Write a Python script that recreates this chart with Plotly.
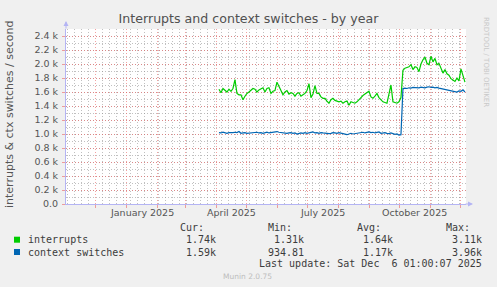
import pandas as pd
import plotly.graph_objects as go

TITLE = "Interrupts and context switches - by year"
Y_TITLE = "interrupts & ctx switches / second"
series_names = ["interrupts", "context switches"]
series_colors = ["#00CC00", "#0066B3"]

# daily-average samples, one every 2 days starting at data_start
data_start = "2025-04-03"
data_step = "2D"

interrupts = [
    1640, 1590, 1650, 1620, 1600, 1640, 1610, 1650, 1776, 1580,
    1560, 1560, 1490, 1540, 1580, 1600, 1630, 1650, 1640, 1600,
    1630, 1650, 1660, 1600, 1650, 1660, 1580, 1610, 1620, 1740,
    1670, 1620, 1560, 1600, 1620, 1570, 1590, 1580, 1540, 1580,
    1590, 1540, 1560, 1580, 1620, 1720, 1520, 1570, 1690, 1580,
    1580, 1530, 1510, 1510, 1470, 1440, 1490, 1510, 1480, 1470,
    1460, 1470, 1440, 1460, 1470, 1410, 1460, 1450, 1440, 1460,
    1490, 1530, 1550, 1570, 1590, 1610, 1530, 1510, 1540, 1580,
    1520, 1490, 1460, 1450, 1440, 1570, 1700, 1460, 1450, 1440,
    1460, 1520, 1910, 1940, 1950, 1960, 1990, 1920, 1960, 1950,
    1890, 2000, 2060, 2100, 2010, 1990, 2110, 2030, 2080, 1990,
    2010, 1940, 1870, 1920, 1860, 1840, 1790, 1770, 1750, 1800,
    1760, 1930, 1820, 1740,
]

context_switches = [
    1020, 1015, 1025, 1020, 1010, 1020, 1015, 1020, 1025, 1020,
    1035, 1010, 1015, 1020, 1010, 1015, 1020, 1015, 1020, 1025,
    1015, 1020, 1010, 1020, 1025, 1015, 1020, 1030, 1025, 1035,
    1025, 1020, 1015, 1020, 1010, 1015, 1020, 1010, 1015, 1000,
    1010, 1015, 1010, 1020, 1010, 1015, 1020, 1030, 1015, 1020,
    1010, 1020, 1015, 1010, 1015, 1005, 1010, 1020, 1015, 1010,
    1020, 1010, 1000, 995, 990, 1000, 1010, 1000, 1005, 1010,
    1015, 1020, 1025, 1015, 1020, 1030, 1020, 1025, 1015, 1020,
    1030, 1010, 1015, 1020, 1010, 1005, 1015, 1005, 995, 1000,
    985, 990, 1650, 1655, 1650, 1660, 1655, 1665, 1660, 1665,
    1660, 1670, 1665, 1660, 1670, 1675, 1665, 1670, 1660, 1665,
    1655, 1650, 1645, 1640, 1635, 1630, 1625, 1620, 1610, 1600,
    1615, 1610, 1630, 1600,
]

x_range = ["2024-11-01 01:00", "2025-12-06 01:00"]
y_range = [0, 2500]
y_tick_values = [0, 200, 400, 600, 800, 1000, 1200, 1400, 1600, 1800, 2000, 2200, 2400]
y_tick_labels = ["0.0", "0.2 k", "0.4 k", "0.6 k", "0.8 k", "1.0 k", "1.2 k",
                 "1.4 k", "1.6 k", "1.8 k", "2.0 k", "2.2 k", "2.4 k"]
x_label_dates = ["2025-01-16", "2025-04-16", "2025-07-16", "2025-10-16"]
x_labels = ["January 2025", "April 2025", "July 2025", "October 2025"]

stat_headers = ["Cur:", "Min:", "Avg:", "Max:"]
cur_values = ["1.74k", "1.59k"]
min_values = ["1.31k", "934.81"]
avg_values = ["1.64k", "1.17k"]
max_values = ["3.11k", "3.96k"]
last_update = "Last update: Sat Dec\u00a0 6 01:00:07 2025"
footer = "Munin 2.0.75"
watermark = "RRDTOOL / TOBI OETIKER"

W, H = 497, 287
PL, PR, PT, PB = 66, 466, 29, 204


def px(x):
    return (x - PL) / (PR - PL)


def py(y):
    return (PB - y) / (PB - PT)


dates = pd.date_range(data_start, periods=len(interrupts), freq=data_step)

fig = go.Figure()
for name, vals, col in zip(series_names, [interrupts, context_switches], series_colors):
    fig.add_trace(go.Scatter(x=dates, y=vals, name=name, mode="lines",
                             line=dict(color=col, width=1.2), showlegend=False))

MAJ = "rgba(235,100,100,0.6)"
MIN = "rgba(140,140,140,0.55)"
DASH = "1px,2px"
AXC = "#B4B4F4"
TXT = "#555555"
FONT = "DejaVu Sans"
MONO = "DejaVu Sans Mono"

fig.update_layout(
    width=W, height=H,
    margin=dict(l=PL, r=W - PR, t=PT, b=H - PB, pad=0),
    paper_bgcolor="#F0F0F0", plot_bgcolor="#FFFFFF",
    title=dict(text=TITLE, x=0.5, xanchor="center", xref="container",
               y=1 - 19 / H, yanchor="middle", yref="container",
               font=dict(family=FONT, size=12.6, color="#505050")),
    font=dict(family=FONT, color=TXT),
)

fig.update_xaxes(
    type="date", range=x_range, showticklabels=False,
    tick0="2024-12-01", dtick="M1", ticks="outside", ticklen=3, tickcolor=MAJ,
    showgrid=True, gridcolor=MAJ, griddash=DASH, gridwidth=1,
    minor=dict(tick0="2024-11-03", dtick=7 * 86400000, showgrid=True,
               gridcolor=MIN, griddash=DASH, gridwidth=1, ticks=""),
    showline=True, linecolor=AXC, linewidth=1, zeroline=False,
)
fig.update_yaxes(
    range=y_range, tickmode="array", tickvals=y_tick_values, ticktext=y_tick_labels,
    ticks="outside", ticklen=3, tickcolor=MAJ, ticklabelstandoff=2,
    tickfont=dict(family=FONT, size=9.5, color=TXT),
    showgrid=True, gridcolor=MAJ, griddash=DASH, gridwidth=1,
    minor=dict(tickmode="linear", tick0=0, dtick=100, showgrid=True,
               gridcolor=MIN, griddash=DASH, gridwidth=1, ticks=""),
    showline=True, linecolor=AXC, linewidth=1, zeroline=False,
)

ann = []
# axis arrows
ann.append(dict(x=0, y=py(21), xref="paper", yref="paper", ax=0, ay=9, text="",
                showarrow=True, arrowhead=2, arrowsize=1, arrowwidth=1, arrowcolor=AXC))
ann.append(dict(x=px(473), y=0, xref="paper", yref="paper", ax=-9, ay=0, text="",
                showarrow=True, arrowhead=2, arrowsize=1, arrowwidth=1, arrowcolor=AXC))
# x labels
for d, lab in zip(x_label_dates, x_labels):
    ann.append(dict(x=d, y=py(212), xref="x", yref="paper", text=lab, showarrow=False,
                    xanchor="center", yanchor="middle",
                    font=dict(family=FONT, size=9.5, color=TXT)))
# y title
ann.append(dict(x=px(9.5), y=py(114.5), xref="paper", yref="paper", text=Y_TITLE,
                textangle=-90, showarrow=False, xanchor="center", yanchor="middle",
                font=dict(family=FONT, size=11, color=TXT)))
# watermark
ann.append(dict(x=px(486), y=py(62), xref="paper", yref="paper", text=watermark,
                textangle=90, showarrow=False, xanchor="center", yanchor="middle",
                font=dict(family=FONT, size=7, color="#C8C8C8")))

LEG = "#3C3C3C"
header_right = [204.7, 293, 382, 470.7]
value_right = [216.7, 305, 394, 482.7]
row_y = [239.7, 252]
for hx, h in zip(header_right, stat_headers):
    ann.append(dict(x=px(hx), y=py(227.3), xref="paper", yref="paper", text=h,
                    showarrow=False, xanchor="right", yanchor="middle", borderpad=0,
                    font=dict(family=MONO, size=10, color=LEG)))
shapes = []
for i, name in enumerate(series_names):
    yy = row_y[i]
    shapes.append(dict(type="rect", xref="paper", yref="paper",
                       x0=px(14), x1=px(20), y0=py(yy + 3), y1=py(yy - 3),
                       fillcolor=series_colors[i], line=dict(width=0)))
    ann.append(dict(x=px(26.7), y=py(yy), xref="paper", yref="paper", text=name,
                    showarrow=False, xanchor="left", yanchor="middle", borderpad=0,
                    font=dict(family=MONO, size=10, color=LEG)))
    for vx, v in zip(value_right, [cur_values[i], min_values[i], avg_values[i], max_values[i]]):
        ann.append(dict(x=px(vx), y=py(yy), xref="paper", yref="paper", text=v,
                        showarrow=False, xanchor="right", yanchor="middle", borderpad=0,
                        font=dict(family=MONO, size=10, color=LEG)))
ann.append(dict(x=px(482.7), y=py(263.7), xref="paper", yref="paper", text=last_update,
                showarrow=False, xanchor="right", yanchor="middle", borderpad=0,
                font=dict(family=MONO, size=10, color=LEG)))
ann.append(dict(x=px(247.7), y=py(276.3), xref="paper", yref="paper", text=footer,
                showarrow=False, xanchor="center", yanchor="middle", borderpad=0,
                font=dict(family=FONT, size=7.5, color="#BDBDBD")))

fig.update_layout(annotations=ann, shapes=shapes)
fig.write_html("out.html")
